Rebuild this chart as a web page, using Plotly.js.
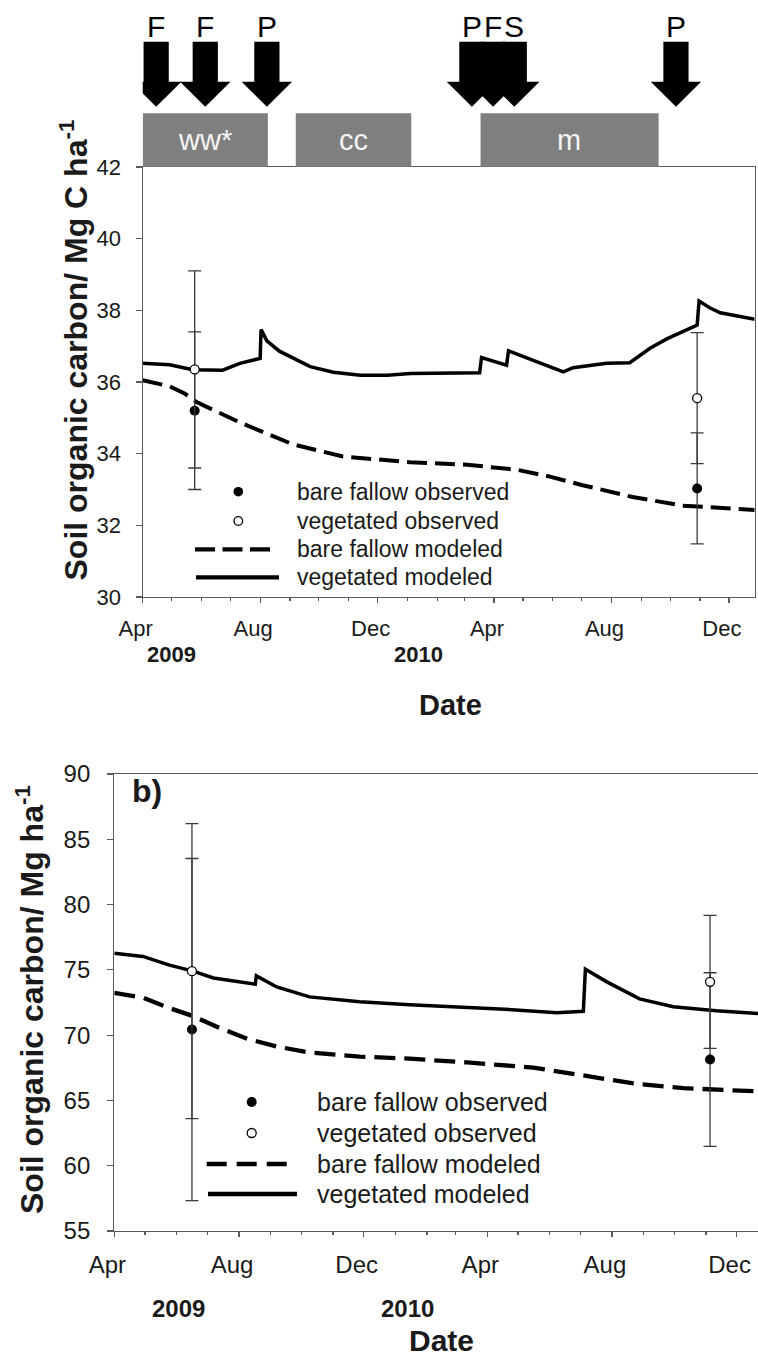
<!DOCTYPE html>
<html><head><meta charset="utf-8">
<script src="https://cdn.plot.ly/plotly-3.0.1.min.js"></script>
<style>html,body{margin:0;padding:0;background:#fff}</style>
</head><body><div id="chart" style="width:758px;height:1361px"></div>
<script>
// ---------- DATA ----------
// Panel a (top)
const topVegDates = ['2009-04-01','2009-04-29','2009-05-23','2009-06-23','2009-07-11','2009-08-01','2009-08-02','2009-08-08','2009-08-21','2009-09-22','2009-10-16','2009-11-13','2009-12-11','2010-01-04','2010-03-17','2010-03-19','2010-04-14','2010-04-16','2010-05-11','2010-06-12','2010-06-22','2010-07-27','2010-08-20','2010-09-10','2010-09-28','2010-10-29','2010-10-31','2010-11-11','2010-11-22','2010-12-28'];
const topVegSOC   = [36.52,36.48,36.34,36.33,36.52,36.66,37.46,37.15,36.86,36.43,36.27,36.19,36.19,36.24,36.26,36.68,36.47,36.87,36.61,36.28,36.40,36.52,36.54,36.94,37.21,37.59,38.26,38.07,37.93,37.75];
const topBareDates = ['2009-04-01','2009-04-29','2009-05-15','2009-05-27','2009-07-11','2009-09-04','2009-10-26','2010-01-04','2010-03-04','2010-04-25','2010-05-29','2010-07-02','2010-08-23','2010-10-14','2010-12-28'];
const topBareSOC   = [36.05,35.88,35.67,35.44,34.87,34.26,33.92,33.76,33.69,33.55,33.36,33.12,32.79,32.55,32.43];
const topObsDates = ['2009-05-25','2010-10-29'];
const topObsBare = [35.20,33.03];
const topObsBareErr = [2.2,1.55];
const topObsVeg = [36.35,35.55];
const topObsVegErr = [2.75,1.83];

// Management events and crops (panel a)
const eventDates  = ['2009-04-15','2009-06-05','2009-08-08','2010-03-09','2010-03-31','2010-04-22','2010-10-07'];
const eventLabels = ['F','F','P','P','F','S','P'];
const cropNames = ['ww*','cc','m'];
const cropStart = ['2009-04-01','2009-09-07','2010-03-18'];
const cropEnd   = ['2009-08-09','2010-01-05','2010-09-19'];

// Panel b (bottom)
const botVegDates = ['2009-04-01','2009-04-29','2009-05-25','2009-06-17','2009-07-07','2009-07-26','2009-08-17','2009-08-18','2009-09-07','2009-10-09','2009-11-27','2010-01-15','2010-04-13','2010-06-08','2010-07-04','2010-07-06','2010-07-27','2010-08-28','2010-09-30','2010-11-11','2010-12-22'];
const botVegSOC   = [76.27,76.03,75.36,74.90,74.38,74.14,73.90,74.54,73.69,72.93,72.56,72.32,72.01,71.71,71.83,75.05,74.08,72.78,72.17,71.86,71.65];
const botBareDates = ['2009-04-01','2009-04-29','2009-05-25','2009-06-17','2009-07-13','2009-08-09','2009-09-07','2009-10-09','2009-11-27','2010-01-15','2010-03-12','2010-05-16','2010-07-04','2010-08-22','2010-10-10','2010-12-22'];
const botBareSOC   = [73.23,72.87,72.07,71.46,70.55,69.73,69.13,68.67,68.36,68.20,67.91,67.52,66.91,66.30,65.94,65.69];
const botObsDates = ['2009-06-16','2010-11-05'];
const botObsBare = [70.43,68.13];
const botObsBareErr = [13.1,6.65];
const botObsVeg = [74.9,74.08];
const botObsVegErr = [11.3,5.1];

// Axis labels
const majorTickDates = ['2009-04-01','2009-08-01','2009-12-01','2010-04-01','2010-08-01','2010-12-01'];
const majorTickText = ['Apr','Aug','Dec','Apr','Aug','Dec'];
const yearLabels = ['2009','2010'];
const legendLabels = ['bare fallow observed','vegetated observed','bare fallow modeled','vegetated modeled'];

// ---------- LAYOUT HELPERS ----------
const W = 758, H = 1361;
const fx = x => x / W;
const fy = y => 1 - y / H;
const FONT = 'Liberation Sans, Arial, sans-serif';
const TXT = '#1a1a1a';
const AX = '#5a5a5a';

const minorTicks = [];
for (let y = 2009; y <= 2010; y++) {
  for (let m = 1; m <= 12; m++) {
    if (y === 2009 && m < 4) continue;
    minorTicks.push(y + '-' + String(m).padStart(2, '0') + '-01');
  }
}

function xAxis(domain, range, anchor, fs, standoff) {
  return {
    domain: domain, range: range, type: 'date', anchor: anchor,
    tickmode: 'array', tickvals: majorTickDates, ticktext: majorTickText,
    ticks: 'outside', ticklen: 5, tickwidth: 1.2, tickcolor: AX,
    showline: true, linecolor: AX, linewidth: 1.2, mirror: true,
    showgrid: false, zeroline: false,
    tickfont: {family: FONT, size: fs, color: TXT},
    ticklabelstandoff: standoff, ticklabelshift: -7,
    minor: {tickmode: 'array', tickvals: minorTicks, ticks: 'outside', ticklen: 3, tickwidth: 1.2, tickcolor: AX, showgrid: false}
  };
}
function yAxis(domain, range, dtick, anchor, fs, standoff, mirror) {
  return {
    domain: domain, range: range, anchor: anchor, tick0: range[0], dtick: dtick,
    ticks: 'outside', ticklen: 6, tickwidth: 1.2, tickcolor: AX,
    showline: true, linecolor: AX, linewidth: 1.2, mirror: mirror,
    showgrid: false, zeroline: false,
    tickfont: {family: FONT, size: fs, color: TXT},
    ticklabelstandoff: standoff
  };
}

// ---------- TRACES ----------
function obsTrace(x, y, err, filled, xa, ya) {
  return {
    x: x, y: y, xaxis: xa, yaxis: ya, type: 'scatter', mode: 'markers',
    marker: {size: filled ? 10 : 9, color: filled ? '#000' : '#fff', line: {color: '#000', width: filled ? 0 : 1.3}},
    error_y: {type: 'data', array: err, visible: true, color: '#3a3a3a', thickness: 1.3, width: 6.5},
    hoverinfo: 'skip'
  };
}
function lineTrace(x, y, dash, w, xa, ya) {
  return {x: x, y: y, xaxis: xa, yaxis: ya, type: 'scatter', mode: 'lines',
    line: {color: '#000', width: w, dash: dash}, hoverinfo: 'skip'};
}

const traces = [
  lineTrace(topBareDates, topBareSOC, '20px,8px', 4, 'x', 'y'),
  lineTrace(topVegDates, topVegSOC, 'solid', 3.5, 'x', 'y'),
  obsTrace(topObsDates, topObsBare, topObsBareErr, true, 'x', 'y'),
  obsTrace(topObsDates, topObsVeg, topObsVegErr, false, 'x', 'y'),
  lineTrace(botBareDates, botBareSOC, '21px,9px', 4.3, 'x2', 'y2'),
  lineTrace(botVegDates, botVegSOC, 'solid', 3.5, 'x2', 'y2'),
  obsTrace(botObsDates, botObsBare, botObsBareErr, true, 'x2', 'y2'),
  obsTrace(botObsDates, botObsVeg, botObsVegErr, false, 'x2', 'y2')
];

// ---------- SHAPES & ANNOTATIONS ----------
const shapes = [];
const annotations = [];

// Crop bars
cropNames.forEach((name, i) => {
  shapes.push({type: 'rect', xref: 'x', yref: 'paper', x0: cropStart[i], x1: cropEnd[i],
    y0: fy(166.7), y1: fy(113.3), fillcolor: '#7f7f7f', line: {width: 0}, layer: 'above'});
  const mid = new Date((new Date(cropStart[i]).getTime() + new Date(cropEnd[i]).getTime()) / 2);
  annotations.push({xref: 'x', yref: 'paper', x: mid.toISOString().slice(0, 10), y: fy(140),
    text: name, showarrow: false, xanchor: 'center', yanchor: 'middle',
    font: {family: FONT, size: 29, color: '#f4f4f4'}});
});

// Event arrows
const arrowPath = 'M-12.6,' + fy(41.7) + ' L12.6,' + fy(41.7) + ' L12.6,' + fy(81.7) + ' L25.2,' + fy(81.7) +
  ' L0,' + fy(106.7) + ' L-25.2,' + fy(81.7) + ' L-12.6,' + fy(81.7) + ' Z';
eventDates.forEach((d, i) => {
  shapes.push({type: 'path', xref: 'x', yref: 'paper', xsizemode: 'pixel', xanchor: d,
    path: arrowPath, fillcolor: '#000', line: {width: 0}, layer: 'above'});
  annotations.push({xref: 'x', yref: 'paper', x: d, y: fy(26), text: eventLabels[i], showarrow: false,
    xanchor: 'center', yanchor: 'middle', font: {family: FONT, size: 30, color: '#000'}});
});

// Custom legends
function legend(cfg) {
  const r = cfg.mr;
  shapes.push({type: 'circle', xref: 'paper', yref: 'paper', x0: fx(cfg.mx - r), x1: fx(cfg.mx + r),
    y0: fy(cfg.rows[0] + r), y1: fy(cfg.rows[0] - r), fillcolor: '#000', line: {width: 0}});
  shapes.push({type: 'circle', xref: 'paper', yref: 'paper', x0: fx(cfg.mx - r + 0.5), x1: fx(cfg.mx + r - 0.5),
    y0: fy(cfg.rows[1] + r - 0.5), y1: fy(cfg.rows[1] - r + 0.5), fillcolor: '#fff', line: {width: 1.3, color: '#000'}});
  shapes.push({type: 'line', xref: 'paper', yref: 'paper', x0: fx(cfg.d0), x1: fx(cfg.d1),
    y0: fy(cfg.rows[2]), y1: fy(cfg.rows[2]), line: {color: '#000', width: cfg.lw, dash: cfg.dash}});
  shapes.push({type: 'line', xref: 'paper', yref: 'paper', x0: fx(cfg.s0), x1: fx(cfg.s1),
    y0: fy(cfg.rows[3]), y1: fy(cfg.rows[3]), line: {color: '#000', width: cfg.lw}});
  legendLabels.forEach((t, i) => {
    annotations.push({xref: 'paper', yref: 'paper', x: fx(cfg.tx), y: fy(cfg.rows[i]), text: t,
      showarrow: false, xanchor: 'left', yanchor: 'middle', font: {family: FONT, size: cfg.fs, color: TXT}});
  });
}
legend({mx: 238.3, mr: 4.8, rows: [491.7, 521, 549.3, 577.3], d0: 195, d1: 270, s0: 196, s1: 279, lw: 4.3, dash: '20px,7.5px', tx: 295, fs: 23});
legend({mx: 251.7, mr: 5, rows: [1102, 1133, 1164, 1194], d0: 206.7, d1: 287, s0: 208, s1: 297, lw: 4.3, dash: '20px,10px', tx: 315, fs: 25});

// Year labels and axis titles
const boldTxt = (x, y, t, size, xref) => ({xref: xref || 'paper', yref: 'paper', x: x, y: y, text: t, showarrow: false,
  xanchor: 'center', yanchor: 'middle', font: {family: FONT, size: size, color: TXT, weight: 'bold'}});
annotations.push(boldTxt('2009-05-01', fy(654.5), yearLabels[0], 22, 'x'));
annotations.push(boldTxt('2010-01-12', fy(654.5), yearLabels[1], 22, 'x'));
annotations.push(boldTxt('2009-06-03', fy(1308), yearLabels[0], 24, 'x2'));
annotations.push(boldTxt('2010-01-13', fy(1308), yearLabels[1], 24, 'x2'));
annotations.push(boldTxt(fx(450), fy(705), 'Date', 29));
annotations.push(Object.assign(boldTxt(fx(441), fy(1359), 'Date', 30), {yanchor: 'bottom'}));
annotations.push(boldTxt(fx(147), fy(791), 'b)', 32));
annotations.push(Object.assign(boldTxt(fx(73.5), fy(350), 'Soil organic carbon/ Mg C ha<sup>-1</sup>', 32), {textangle: -90}));
annotations.push(Object.assign(boldTxt(fx(30), fy(1000), 'Soil organic carbon/ Mg ha<sup>-1</sup>', 32), {textangle: -90}));

const layout = {
  width: W, height: H, margin: {l: 0, r: 0, t: 0, b: 0},
  paper_bgcolor: '#fff', plot_bgcolor: '#fff', showlegend: false,
  xaxis: xAxis([fx(142.7), fx(754.5)], ['2009-04-01', '2010-12-27 14:00'], 'y', 22, 6),
  yaxis: yAxis([fy(597), fy(167)], [30, 42], 2, 'x', 22, 10, true),
  xaxis2: xAxis([fx(114.3), 1], ['2009-04-01', '2010-12-21 22:00'], 'y2', 24, 7),
  yaxis2: yAxis([fy(1231), fy(774)], [55, 90], 5, 'x2', 24, 12, false),
  shapes: shapes, annotations: annotations
};

Plotly.newPlot('chart', traces, layout, {displayModeBar: false, staticPlot: true});
</script></body></html>
